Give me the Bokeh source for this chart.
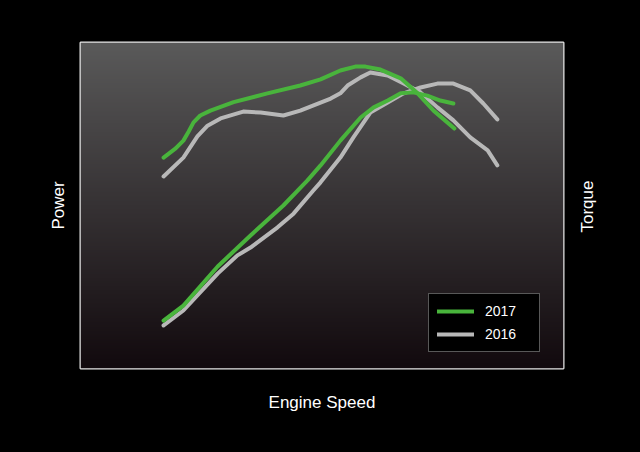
import math
import numpy as np
from bokeh.plotting import figure
from bokeh.models import Range1d, LinearAxis, FixedTicker, Legend, LegendItem
from bokeh.embed import file_html
from bokeh.resources import INLINE

# Engine speed (percent of range) and curve values (arbitrary units, 0-100)
speed_power_2017 = [17.2, 19.7, 21.3, 22.4, 23.4, 24.8, 26.9, 31.7, 38.7, 45.5, 49.7, 53.8, 56.9, 59.0, 62.1, 66.3, 69.8, 73.1, 77.4]
power_2017 = [64.7, 67.5, 69.9, 72.7, 75.5, 77.6, 79.1, 81.7, 84.4, 86.8, 88.7, 91.4, 92.6, 92.6, 91.7, 89.0, 84.4, 79.1, 73.6]

speed_power_2016 = [17.2, 21.3, 24.2, 26.3, 29.0, 33.7, 37.3, 42.0, 45.5, 51.8, 53.8, 55.3, 58.0, 60.0, 63.6, 66.9, 70.4, 73.9, 77.2, 80.7, 84.3, 86.3]
power_2016 = [58.9, 64.7, 71.2, 74.5, 76.7, 78.8, 78.5, 77.6, 79.1, 82.8, 84.4, 86.8, 89.3, 90.8, 89.9, 87.4, 84.7, 80.1, 76.1, 70.9, 66.9, 62.3]

speed_torque_2017 = [17.2, 21.3, 28.4, 35.2, 42.0, 47.0, 49.7, 53.8, 58.0, 60.7, 63.6, 66.3, 68.9, 71.8, 74.5, 77.2]
torque_2017 = [14.7, 19.3, 31.3, 40.8, 50.0, 57.7, 62.3, 69.9, 77.0, 80.1, 82.2, 84.4, 84.7, 83.7, 82.2, 81.3]

speed_torque_2016 = [17.2, 21.3, 28.4, 32.5, 35.2, 40.8, 44.1, 48.2, 49.7, 53.8, 56.5, 60.0, 63.6, 66.9, 70.4, 73.9, 77.2, 80.7, 83.4, 86.3]
torque_2016 = [13.2, 17.8, 29.1, 34.7, 37.1, 43.3, 47.5, 54.6, 57.1, 64.7, 70.9, 78.5, 81.6, 84.4, 86.2, 87.4, 87.4, 85.3, 81.3, 76.4]

series_labels = ["2017", "2016"]
GREEN = "#49b43c"
GRAY = "#b8b8b8"
FONT = "Liberation Sans"

p = figure(width=624, height=436, output_backend="svg", toolbar_location=None,
           x_range=Range1d(0, 100), y_range=Range1d(0, 100),
           min_border_left=80, min_border_right=61, min_border_top=42, min_border_bottom=68,
           background_fill_color="#000000", border_fill_color="#000000")
p.extra_y_ranges = {"torque": Range1d(0, 100)}
p.outline_line_color = "#e6e6e6"
p.outline_line_width = 2
p.grid.visible = False

# vertical gradient background
n = 256
t = np.linspace(0, 1, n)[:, None]
top = np.array([90, 90, 90], dtype=float)
bot = np.array([18, 10, 14], dtype=float)
rgb = bot + (top - bot) * t
img = np.empty((n, 1), dtype=np.uint32)
view = img.view(dtype=np.uint8).reshape((n, 1, 4))
view[:, :, 0:3] = rgb.reshape(n, 1, 3).astype(np.uint8)
view[:, :, 3] = 255
p.image_rgba(image=[img], x=0, y=0, dw=100, dh=100)

lw = 4
r_p16 = p.line(speed_power_2016, power_2016, line_color=GRAY, line_width=lw, line_join="round", line_cap="round")
r_t16 = p.line(speed_torque_2016, torque_2016, y_range_name="torque", line_color=GRAY, line_width=lw, line_join="round", line_cap="round")
r_p17 = p.line(speed_power_2017, power_2017, line_color=GREEN, line_width=lw, line_join="round", line_cap="round")
r_t17 = p.line(speed_torque_2017, torque_2017, y_range_name="torque", line_color=GREEN, line_width=lw, line_join="round", line_cap="round")

def style(ax, label, standoff):
    ax.axis_label = label
    ax.ticker = FixedTicker(ticks=[])
    ax.axis_line_color = None
    ax.major_tick_line_color = None
    ax.minor_tick_line_color = None
    ax.major_tick_out = 0
    ax.major_tick_in = 0
    ax.minor_tick_out = 0
    ax.minor_tick_in = 0
    ax.major_label_text_font_size = "0px"
    ax.major_label_standoff = 0
    ax.axis_label_standoff = standoff
    ax.axis_label_text_color = "white"
    ax.axis_label_text_font = FONT
    ax.axis_label_text_font_size = "17px"
    ax.axis_label_text_font_style = "normal"

style(p.xaxis[0], "Engine Speed", 24)
style(p.yaxis[0], "Power", 13)

# Right side title "Torque" (reads bottom-to-top like "Power"), drawn as the
# single rotated tick label of the torque axis; rotated labels start at the tick
torque_title_at = 41.7
right_axis = LinearAxis(y_range_name="torque")
right_axis.ticker = FixedTicker(ticks=[torque_title_at])
right_axis.major_label_overrides = {torque_title_at: "Torque"}
right_axis.major_label_orientation = math.pi / 2
right_axis.axis_line_color = None
right_axis.major_tick_line_color = None
right_axis.minor_tick_line_color = None
right_axis.major_tick_out = 0
right_axis.major_tick_in = 0
right_axis.minor_tick_out = 0
right_axis.minor_tick_in = 0
right_axis.major_label_standoff = 24
right_axis.major_label_text_color = "white"
right_axis.major_label_text_font = FONT
right_axis.major_label_text_font_size = "17px"
p.add_layout(right_axis, "right")

legend = Legend(items=[LegendItem(label=series_labels[0], renderers=[r_p17]),
                       LegendItem(label=series_labels[1], renderers=[r_p16])],
                location=(348, 16), orientation="vertical")
legend.background_fill_color = "#000000"
legend.background_fill_alpha = 1.0
legend.border_line_color = "#b0b0b0"
legend.border_line_width = 1
legend.padding = 8
legend.spacing = 5
legend.glyph_width = 37
legend.glyph_height = 18
legend.label_height = 18
legend.label_width = 46
legend.label_standoff = 11
legend.label_text_color = "white"
legend.label_text_font = FONT
legend.label_text_font_size = "14px"
legend.margin = 0
p.add_layout(legend)

html = file_html(p, INLINE)
html = html.replace("</head>", "<style>html,body{background:#000000;}</style></head>", 1)
open("out.html", "w").write(html)
